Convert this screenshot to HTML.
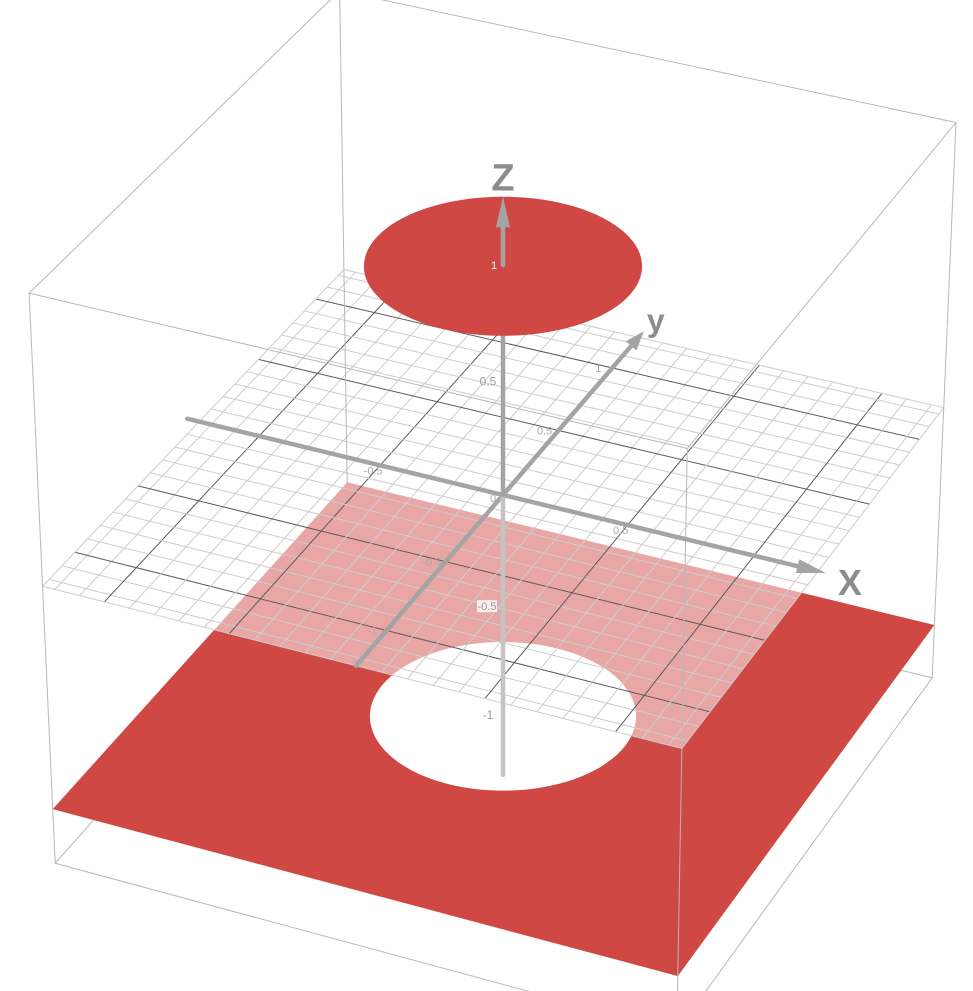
<!DOCTYPE html>
<html><head><meta charset="utf-8"><style>
html,body{margin:0;padding:0;background:#fff;}
svg{display:block;font-family:"Liberation Sans",sans-serif;}
</style></head><body>
<svg id="chart" width="973" height="991" viewBox="0 0 973 991" xmlns="http://www.w3.org/2000/svg"></svg>
<script>
// ---- data ----
const boxExtent = [-1.25, 1.25];
const discZ = [1];
const discRadius = [0.5];
const planeZ = [-1];
const holeRadius = [0.5];
const xTickValues = [-0.5, 0, 0.5];
const xTickLabels = ["-0.5", "0", "0.5"];
const yTickValues = [-1, -0.5, 0.5, 1];
const yTickLabels = ["-1", "-0.5", "0.5", "1"];
const zTickValues = [-1, -0.5, 0.5, 1];
const zTickLabels = ["-1", "-0.5", "0.5", "1"];

// ---- projection ----
const S = 272, AL = 24.5 * Math.PI / 180, PH = 32 * Math.PI / 180, D = 24, KZ = 0.975, CX = 503, CY = 495;
function P(x, y, z) {
  const ca = Math.cos(AL), sa = Math.sin(AL), cp = Math.cos(PH), sp = Math.sin(PH);
  const right = x * ca + y * sa;
  const up = z * cp * KZ + sp * (-x * sa + y * ca);
  const t = cp * (x * sa - y * ca) + z * sp;
  const w = D / (D - t);
  return [CX + S * right * w, CY - S * up * w];
}
const NS = "http://www.w3.org/2000/svg";
const svg = document.getElementById("chart");
function mk(tag, attrs) { const e = document.createElementNS(NS, tag); for (const k in attrs) e.setAttribute(k, attrs[k]); svg.appendChild(e); return e; }
function pts(arr) { return arr.map(p => p[0].toFixed(1) + "," + p[1].toFixed(1)).join(" "); }
function circlePts(r, z) { const a = []; for (let i = 0; i < 96; i++) { const t = i / 96 * 2 * Math.PI; a.push(P(r * Math.cos(t), r * Math.sin(t), z)); } return a; }
function line(p, q, stroke, sw, name) {
  const l = mk("line", { x1: p[0], y1: p[1], x2: q[0], y2: q[1], stroke: stroke, "stroke-width": sw, "stroke-linecap": "round" });
  
  
  return l;
}
const L0 = boxExtent[0], L1 = boxExtent[1];
const BOX = "#b8b8b8";

const bottom = [[L0, L0], [L1, L0], [L1, L1], [L0, L1]];
for (let i = 0; i < 4; i++) {
  const a = bottom[i], b = bottom[(i + 1) % 4];
  line(P(a[0], a[1], L0), P(b[0], b[1], L0), BOX, 1, "box-edge");
  line(P(a[0], a[1], L0), P(a[0], a[1], planeZ[0]), BOX, 1, "box-edge");
}

{
  const pz = planeZ[0];
  const outer = [P(L0, L0, pz), P(L1, L0, pz), P(L1, L1, pz), P(L0, L1, pz)];
  const hole = circlePts(holeRadius[0], pz);
  let d = "M" + outer.map(p => p[0].toFixed(1) + " " + p[1].toFixed(1)).join(" L") + " Z ";
  d += "M" + hole.map(p => p[0].toFixed(1) + " " + p[1].toFixed(1)).join(" L") + " Z";
  const pl = mk("path", { d: d, fill: "#cf4844", "fill-rule": "evenodd" });
  
  
}

{
  const g = mk("polygon", { points: pts([P(L0, L0, 0), P(L1, L0, 0), P(L1, L1, 0), P(L0, L1, 0)]), fill: "#ffffff", "fill-opacity": 0.52 });
  
  
}
for (let i = -12; i <= 12; i++) {
  const v = i / 10;
  const major = (i % 5 === 0);
  const col = major ? "#5a5a5a" : "#cdcdcd";
  line(P(v, L0, 0), P(v, L1, 0), col, 1, major ? "grid-major-x" : "grid-minor-x");
  line(P(L0, v, 0), P(L1, v, 0), col, 1, major ? "grid-major-y" : "grid-minor-y");
}
for (const e of boxExtent) {
  line(P(e, L0, 0), P(e, L1, 0), "#cdcdcd", 1, "grid-border");
  line(P(L0, e, 0), P(L1, e, 0), "#cdcdcd", 1, "grid-border");
}

for (let i = 0; i < 4; i++) {
  const a = bottom[i], b = bottom[(i + 1) % 4];
  line(P(a[0], a[1], L1), P(b[0], b[1], L1), BOX, 1, "box-edge");
  line(P(a[0], a[1], planeZ[0]), P(a[0], a[1], L1), BOX, 1, "box-edge");
}

const AX = "#a4a4a4";
function arrow(tip, base, name) {
  const dx = tip[0] - base[0], dy = tip[1] - base[1], n = Math.hypot(dx, dy), px = -dy / n * 7, py = dx / n * 7;
  const a = mk("polygon", { points: pts([tip, [base[0] + px, base[1] + py], [base[0] - px, base[1] - py]]), fill: AX });
  
  
}
line(P(-1.3, 0, 0), P(1.2, 0, 0), AX, 4.5, "x-axis");
arrow(P(1.28, 0, 0), P(1.17, 0, 0), "x-axis-arrow");
line(P(0, -1.25, 0), P(0, 1.2, 0), AX, 4.5, "y-axis");
arrow(P(0, 1.3, 0), P(0, 1.18, 0), "y-axis-arrow");
line(P(0, 0, -1.28), P(0, 0, 0), "#c4c4c4", 4.5, "z-axis-lower");
line(P(0, 0, 0), P(0, 0, discZ[0]), AX, 4.5, "z-axis");

{
  const dsc = mk("polygon", { points: pts(circlePts(discRadius[0], discZ[0])), fill: "#cf4844" });
  
  
}
line(P(0, 0, discZ[0]), P(0, 0, 1.18), AX, 4.5, "z-axis-upper");
arrow(P(0, 0, 1.29), P(0, 0, 1.16), "z-axis-arrow");

function label(txt, p, dx, dy, size, fill, name, anchor, weight) {
  const t = mk("text", { x: p[0] + dx, y: p[1] + dy, "font-size": size, fill: fill, "text-anchor": anchor || "middle", "font-weight": weight || "normal" });
  t.textContent = txt;
  
  
  return t;
}
xTickValues.forEach((v, i) => label(xTickLabels[i], P(v, 0, 0), v === 0 ? -10 : -7, v === 0 ? 7 : 9, 11, "#aaaaaa", "x-tick-label"));
yTickValues.forEach((v, i) => label(yTickLabels[i], P(0, v, 0), -14, 4, 11, "#aaaaaa", "y-tick-label"));
zTickValues.forEach((v, i) => {
  const p = P(0, 0, v);
  if (v === 1) label(zTickLabels[i], p, -9, 4, 11, "#ffffff", "z-tick-label");
  else if (v === -0.5) {
    const r = mk("rect", { x: p[0] - 26, y: p[1] - 6, width: 20, height: 12, fill: "#ffffff", "fill-opacity": 0.8 });
    
    
    label(zTickLabels[i], p, -16, 4, 11, "#999999", "z-tick-label");
  }
  else label(zTickLabels[i], p, -15, 4, 12, "#999999", "z-tick-label");
});

label("Z", P(0, 0, 1.29), 0, -6, 38, "#8c8c8c", "z-axis-title", "middle", "bold");
label("X", P(1.28, 0, 0), 24, 22, 36, "#8c8c8c", "x-axis-title", "middle", "bold");
label("y", P(0, 1.3, 0), 12, 0, 32, "#8c8c8c", "y-axis-title", "middle", "bold");
</script>
</body></html>
